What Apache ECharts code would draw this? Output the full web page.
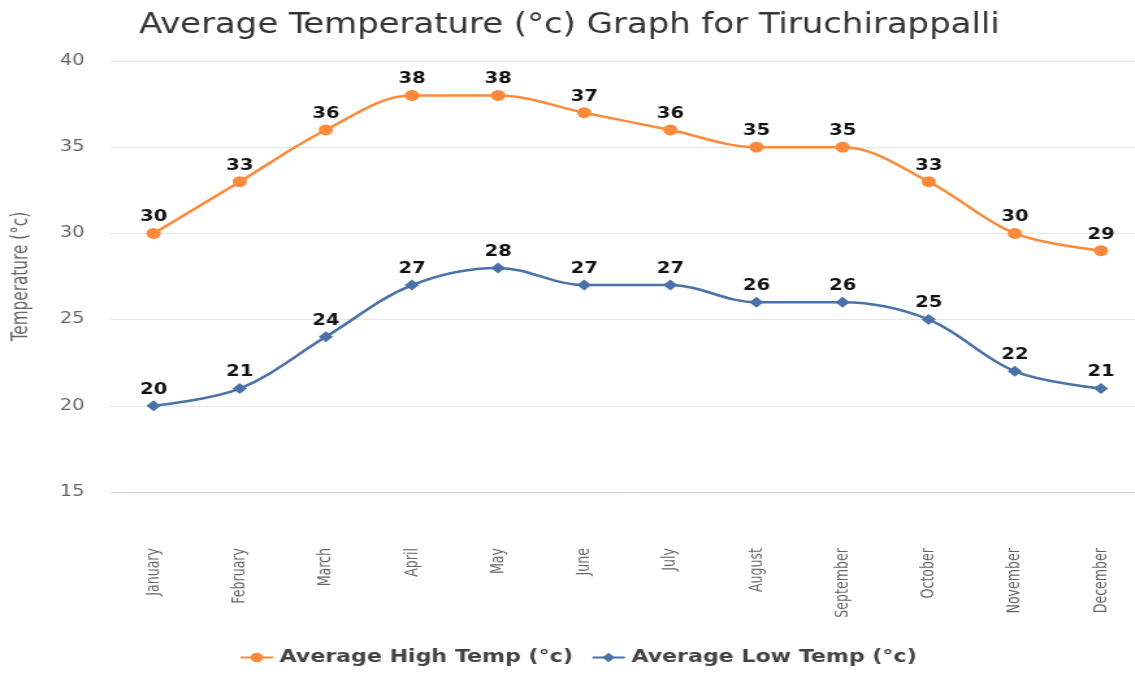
<!DOCTYPE html>
<html><head><meta charset="utf-8">
<script src="https://cdn.jsdelivr.net/npm/echarts@6/dist/echarts.min.js"></script>
<style>html,body{margin:0;padding:0;background:#fff;overflow:hidden;width:1135px;height:675px}
#c{width:890px;height:675px;transform:scaleX(1.3);transform-origin:0 0}</style>
</head><body><div id="c"></div>
<script>
const months = ["January","February","March","April","May","June","July","August","September","October","November","December"];
const highTemps = [30,33,36,38,38,37,36,35,35,33,30,29];
const lowTemps = [20,21,24,27,28,27,27,26,26,25,22,21];
const yTicks = {min:15, max:40, interval:5};
const chart = echarts.init(document.getElementById('c'));
const condensed = "'DejaVu Sans Condensed', 'Liberation Sans Narrow', Roboto, sans-serif";
const labelStyle = {show:true, position:'top', distance:3, color:'#111', fontFamily:'DejaVu Sans', fontWeight:'bold', fontSize:15};
chart.setOption({
  animation:false,
  title:{text:'Average Temperature (°c) Graph for Tiruchirappalli', left:102, top:6,
    textStyle:{fontFamily:condensed, fontWeight:'normal', fontSize:29, color:'#333'}},
  grid:{left:82, right:10, top:61, bottom:183, containLabel:false},
  legend:{bottom:4, left:179, itemGap:14, itemWidth:25, itemHeight:12,
    textStyle:{fontFamily:'DejaVu Sans', fontWeight:'bold', fontSize:17, color:'#444'}},
  xAxis:{type:'category', data:months, boundaryGap:true,
    axisLine:{show:false}, axisTick:{show:false},
    axisLabel:{rotate:90, margin:56, color:'#666', fontFamily:condensed, fontSize:14}},
  yAxis:{type:'value', min:yTicks.min, max:yTicks.max, interval:yTicks.interval,
    name:'Temperature (°c)', nameLocation:'middle', nameGap:60, nameRotate:90,
    nameTextStyle:{color:'#666', fontFamily:condensed, fontSize:17},
    axisLine:{show:false}, axisTick:{show:false},
    axisLabel:{color:'#666', fontFamily:'DejaVu Sans', fontSize:15, margin:20},
    splitLine:{lineStyle:{color:['#ccd6eb','#e6e6e6','#e6e6e6','#e6e6e6','#e6e6e6','#e6e6e6'], width:1}}},
  series:[
    {name:'Average High Temp (°c)', type:'line', data:highTemps, smooth:0.35,
     symbol:'circle', symbolSize:11, itemStyle:{color:'#fd8a3a'}, lineStyle:{width:2.5, color:'#fd8a3a'},
     label:labelStyle},
    {name:'Average Low Temp (°c)', type:'line', data:lowTemps, smooth:0.35,
     symbol:'diamond', symbolSize:11, itemStyle:{color:'#4a72a8'}, lineStyle:{width:2.5, color:'#4a72a8'},
     label:labelStyle}
  ]
});
</script></body></html>
